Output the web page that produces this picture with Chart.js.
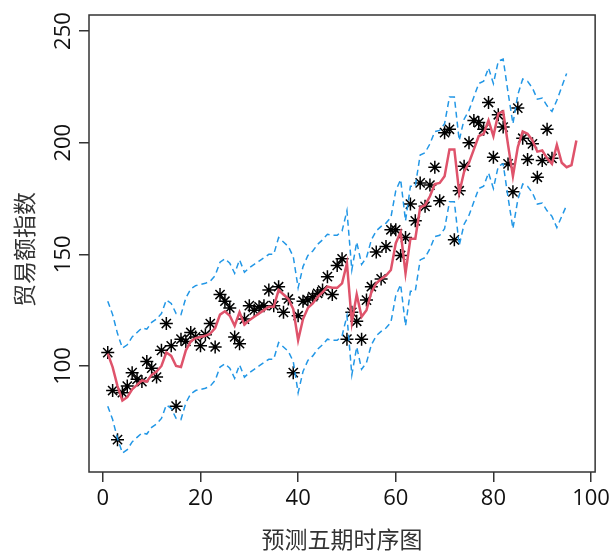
<!DOCTYPE html>
<html>
<head>
<meta charset="utf-8">
<script src="https://cdn.jsdelivr.net/npm/chart.js@4"></script>
<style>
  html, body { margin: 0; padding: 0; background: #fff; }
  canvas { display: block; }
</style>
</head>
<body>
<canvas id="tsChart" width="614" height="553"></canvas>
<script>
// 观测值（第1-92期）
const observed = [
  106, 89, 67, 88, 91, 97, 94, 93, 102, 99,
  95, 107, 119, 109, 82, 112, 111, 115, 113, 109,
  114, 119, 108.5, 132, 129, 126, 113, 110, 121, 127,
  125, 126.5, 127, 134, 127, 135.5, 124, 130, 97, 122.5,
  129, 129.5, 131, 132.5, 134, 140, 132, 145, 148, 112,
  124, 120, 112, 129.5, 135.5, 151, 139, 153.5, 161, 161,
  149.5, 157.5, 172.5, 165, 182, 171.5, 181, 189, 174, 204.5,
  206, 156.5, 178.5, 189.5, 200, 210, 209, 206, 218, 193.5,
  212.5, 207, 190.5, 178, 215.5, 202, 192.5, 199.5, 184.5, 192,
  206, 193
];

// 拟合值 + 预测五期（第1-97期）
const fitted = [
  105.5, 99.5, 91, 84.5, 86, 89.5, 91.5, 93.5, 93, 96,
  97.5, 100, 106, 104.5, 100, 99.5, 107, 111, 112.5, 113,
  113.5, 114.5, 117, 123, 124.5, 122.5, 118, 124, 118.5, 120.5,
  122, 123.5, 125, 126.5, 126.5, 134, 132, 130, 125.5, 111.5,
  121, 126, 128, 131, 133, 135.5, 135, 135, 137, 146,
  119.5, 132, 122, 125, 133, 137, 139, 140.5, 143, 155,
  160, 141.5, 157, 157, 171, 172, 176, 181.5, 182, 185,
  197, 197, 177.5, 187, 191, 197, 203, 204, 210, 203,
  213, 214, 199, 185, 198, 205, 204, 201, 196, 196.5,
  193, 190.5, 199, 191, 189, 190, 201
];

// 置信区间上限
const upper = [
  129, 123, 114.5, 108, 109.5, 113, 115, 117, 116.5, 119.5,
  121, 123.5, 129.5, 128, 123.5, 123, 130.5, 134.5, 136, 136.5,
  137, 138, 140.5, 146.5, 148, 146, 141.5, 147.5, 142, 144,
  145.5, 147, 148.5, 150, 150, 157.5, 155.5, 153.5, 149, 135,
  144.5, 149.5, 151.5, 154.5, 156.5, 159, 158.5, 158.5, 160.5, 169.5,
  143, 155.5, 145.5, 148.5, 156.5, 160.5, 162.5, 164, 166.5, 178.5,
  183.5, 165, 180.5, 180.5, 194.5, 195.5, 199.5, 205, 205.5, 208.5,
  220.5, 220.5, 201, 210.5, 214.5, 220.5, 226.5, 227.5, 233.5, 226.5,
  236.5, 237.5, 222.5, 208.5, 221.5, 228.5, 227.5, 224.5, 219.5, 220,
  216.5, 214, 219, 225, 231
];

// 置信区间下限
const lower = [
  82, 76, 67.5, 61, 62.5, 66, 68, 70, 69.5, 72.5,
  74, 76.5, 82.5, 81, 76.5, 76, 83.5, 87.5, 89, 89.5,
  90, 91, 93.5, 99.5, 101, 99, 94.5, 100.5, 95, 97,
  98.5, 100, 101.5, 103, 103, 110.5, 108.5, 106.5, 102, 88,
  97.5, 102.5, 104.5, 107.5, 109.5, 112, 111.5, 111.5, 113.5, 122.5,
  96, 108.5, 98.5, 101.5, 109.5, 113.5, 115.5, 117, 119.5, 131.5,
  136.5, 118, 133.5, 133.5, 147.5, 148.5, 152.5, 158, 158.5, 161.5,
  173.5, 173.5, 154, 163.5, 167.5, 173.5, 179.5, 180.5, 186.5, 179.5,
  189.5, 190.5, 175.5, 161.5, 174.5, 181.5, 180.5, 177.5, 172.5, 173,
  169.5, 167, 162, 167, 172
];

const xTicks = [0, 20, 40, 60, 80, 100];
const yTicks = [100, 150, 200, 250];

const xTitle = '预测五期时序图';
const yTitle = '贸易额指数';

const toPoints = arr => arr.map((v, i) => ({ x: i + 1, y: v }));

const numFont = { family: "'Open Sans', sans-serif", size: 22 };
const cjkFont = { family: "'Noto Sans CJK SC', sans-serif", size: 23 };

// 外框、纵轴刻度文字和纵轴标题（竖排）
const framePlugin = {
  id: 'frame',
  afterDraw(chart) {
    const { ctx, chartArea: a, scales } = chart;
    ctx.save();
    ctx.strokeStyle = '#333';
    ctx.lineWidth = 1.5;
    ctx.strokeRect(a.left, a.top, a.right - a.left, a.bottom - a.top);

    ctx.fillStyle = '#111';
    ctx.font = `${numFont.size}px ${numFont.family}`;
    ctx.textAlign = 'center';
    ctx.textBaseline = 'middle';
    yTicks.forEach(v => {
      const y = scales.y.getPixelForValue(v);
      ctx.save();
      ctx.translate(64, y);
      ctx.rotate(-Math.PI / 2);
      ctx.fillText(String(v), 0, 0);
      ctx.restore();
    });

    ctx.fillStyle = '#333';
    ctx.font = `${cjkFont.size}px ${cjkFont.family}`;
    ctx.translate(24, (a.top + a.bottom) / 2 + 6);
    ctx.rotate(-Math.PI / 2);
    ctx.fillText(yTitle, 0, 0);
    ctx.restore();
  }
};

new Chart(document.getElementById('tsChart'), {
  type: 'line',
  data: {
    datasets: [
      {
        label: '拟合值',
        data: toPoints(fitted),
        borderColor: '#DF536B',
        borderWidth: 2.5,
        pointRadius: 0,
        tension: 0,
        order: 1
      },
      {
        label: '上限',
        data: toPoints(upper),
        borderColor: '#2297E6',
        borderWidth: 1.5,
        borderDash: [6, 4],
        pointRadius: 0,
        tension: 0,
        order: 2
      },
      {
        label: '下限',
        data: toPoints(lower),
        borderColor: '#2297E6',
        borderWidth: 1.5,
        borderDash: [6, 4],
        pointRadius: 0,
        tension: 0,
        order: 3
      },
      {
        label: '观测值',
        data: toPoints(observed),
        showLine: false,
        pointStyle: 'star',
        pointRadius: 6.5,
        pointBorderColor: '#000',
        pointBorderWidth: 1.5,
        borderColor: '#000',
        order: 4
      }
    ]
  },
  options: {
    responsive: false,
    animation: false,
    layout: { padding: { top: 15, right: 12, left: 0, bottom: 0 } },
    plugins: {
      legend: { display: false },
      tooltip: { enabled: false }
    },
    scales: {
      x: {
        type: 'linear',
        min: -2.84,
        max: 100.84,
        afterBuildTicks: s => { s.ticks = xTicks.map(v => ({ value: v })); },
        afterFit: s => { s.height = 81; },
        border: { display: false },
        grid: { drawOnChartArea: false, drawTicks: true, tickLength: 10, color: '#333', lineWidth: 1.5 },
        ticks: { color: '#111', font: numFont, padding: 4, maxRotation: 0 },
        title: { display: true, text: xTitle, color: '#333', font: cjkFont, padding: { top: 0, bottom: 0 } }
      },
      y: {
        type: 'linear',
        min: 52.5,
        max: 257.2,
        afterBuildTicks: s => { s.ticks = yTicks.map(v => ({ value: v })); },
        afterFit: s => { s.width = 89; },
        border: { display: false },
        grid: { drawOnChartArea: false, drawTicks: true, tickLength: 10, color: '#333', lineWidth: 1.5 },
        ticks: { display: false }
      }
    }
  },
  plugins: [framePlugin]
});
</script>
</body>
</html>
